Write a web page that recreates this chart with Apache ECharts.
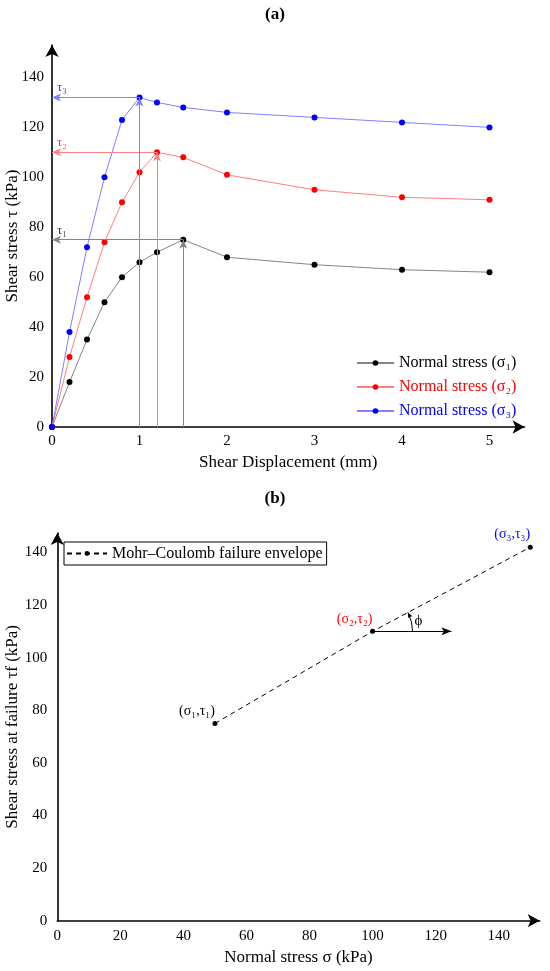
<!DOCTYPE html>
<html>
<head>
<meta charset="utf-8">
<script src="https://cdn.jsdelivr.net/npm/echarts@6/dist/echarts.min.js"></script>
<style>
    html, body { margin: 0; padding: 0; background: #fff; }
    #chart { width: 550px; height: 971px; }
</style>
</head>
<body>
<div id="chart"></div>
<script>
// (a) shear stress vs displacement
const displacement = [0, 0.2, 0.4, 0.6, 0.8, 1.0, 1.2, 1.5, 2, 3, 4, 5];
const stressS1 = [0, 18, 35, 50, 60, 66, 70, 75, 68, 65, 63, 62];
const stressS2 = [0, 28, 52, 74, 90, 102, 110, 108, 101, 95, 92, 91];
const stressS3 = [0, 38, 72, 100, 123, 132, 130, 128, 126, 124, 122, 120];
const seriesNames = ['Normal stress (σ₁)', 'Normal stress (σ₂)', 'Normal stress (σ₃)'];
const tauLabels = ['τ₁', 'τ₂', 'τ₃'];
const ticksA = { xInterval: 1, yInterval: 20 };

// (b) failure envelope
const normalStress = [50, 100, 150];
const failureStress = [75, 110, 142];
const pointLabels = ['(σ₁,τ₁)', '(σ₂,τ₂)', '(σ₃,τ₃)'];
const envelopeName = 'Mohr–Coulomb failure envelope';
const phiArrowEnd = 125;
const ticksB = { xInterval: 20, yInterval: 20 };

const markerColors = ['#000000', '#ff0000', '#0000ff'];
const lineColors = ['#858585', '#ff7f7f', '#7f7fff'];
const FONT = "'Liberation Serif', 'DejaVu Serif', serif";

const chart = echarts.init(document.getElementById('chart'));

function axisCommon(name, nameGap, interval, max, labelMargin) {
    return {
        type: 'value',
        min: 0,
        max: max,
        interval: interval,
        name: name,
        nameLocation: 'middle',
        nameGap: nameGap,
        nameMoveOverlap: false,
        nameTextStyle: { color: '#000', fontFamily: FONT, fontSize: 17 },
        axisLine: {
            show: true,
            onZero: false,
            symbol: ['none', 'arrow'],
            symbolSize: [10, 12],
            lineStyle: { color: '#000', width: 1.6 }
        },
        axisTick: { show: false },
        splitLine: { show: false },
        axisLabel: {
            color: '#000', fontFamily: FONT, fontSize: 15,
            margin: labelMargin, showMaxLabel: false
        }
    };
}

function stressSeries(values, i) {
    const peak = Math.max(...values);
    const peakX = displacement[values.indexOf(peak)];
    return {
        name: seriesNames[i],
        type: 'line',
        xAxisIndex: 0,
        yAxisIndex: 0,
        data: displacement.map((x, k) => [x, values[k]]),
        symbol: 'circle',
        symbolSize: 6,
        z: 3,
        itemStyle: { color: markerColors[i] },
        lineStyle: { color: lineColors[i], width: 1 },
        emphasis: { disabled: true },
        markLine: {
            silent: true,
            symbol: ['none', 'arrow'],
            symbolSize: [6, 9],
            label: { show: false },
            lineStyle: { color: lineColors[i], width: 1, type: 'solid' },
            data: [
                [{ coord: [peakX, 0] }, { coord: [peakX, peak] }],
                [{ coord: [peakX, peak] }, { coord: [0, peak] }]
            ]
        }
    };
}

const stressSets = [stressS1, stressS2, stressS3];

const titleRich = {
    p: { fontFamily: FONT, fontSize: 17, color: '#000' },
    b: { fontFamily: FONT, fontSize: 17, fontWeight: 'bold', color: '#000' }
};

const option = {
    backgroundColor: '#fff',
    animation: false,
    title: [
        { text: '{p|(}{b|a}{p|)}', left: 'center', top: 1, textStyle: { rich: titleRich } },
        { text: '{p|(}{b|b}{p|)}', left: 'center', top: 485, textStyle: { rich: titleRich } }
    ],
    legend: [
        {
            data: seriesNames.map((n, i) => ({ name: n, textStyle: { color: markerColors[i] } })),
            orient: 'vertical',
            left: 351,
            top: 350,
            itemWidth: 37,
            itemHeight: 7,
            itemGap: 8,
            selectedMode: false,
            textStyle: { fontFamily: FONT, fontSize: 16, lineHeight: 16 }
        },
        {
            data: [envelopeName],
            left: 64,
            top: 542,
            itemWidth: 40,
            itemHeight: 6,
            padding: [3, 4, 3, 2],
            borderColor: '#000',
            borderWidth: 1,
            borderRadius: 0,
            selectedMode: false,
            textStyle: { fontFamily: FONT, fontSize: 16, lineHeight: 17, color: '#000' }
        }
    ],
    grid: [
        { left: 52, top: 45, right: 25.5, bottom: 544, outerBoundsMode: 'none' },
        { left: 57.3, top: 533, right: 10.3, bottom: 50.3, outerBoundsMode: 'none' }
    ],
    xAxis: [
        Object.assign(axisCommon('Shear Displacement (mm)', 27, ticksA.xInterval, 5.4, 7), { gridIndex: 0 }),
        Object.assign(axisCommon('Normal stress σ (kPa)', 28, ticksB.xInterval, 153, 8), { gridIndex: 1 })
    ],
    yAxis: [
        Object.assign(axisCommon('Shear stress τ (kPa)', 31, ticksA.yInterval, 153, 8), { gridIndex: 0 }),
        Object.assign(axisCommon('Shear stress at failure τf (kPa)', 36, ticksB.yInterval, 147.4, 10), { gridIndex: 1 })
    ],
    series: [
        ...stressSets.map((v, i) => stressSeries(v, i)),
        {
            // tau labels next to the y axis
            type: 'scatter',
            xAxisIndex: 0,
            yAxisIndex: 0,
            silent: true,
            symbolSize: 0,
            data: stressSets.map((v, i) => ({
                value: [0, Math.max(...v)],
                label: { formatter: tauLabels[i], color: markerColors[i] }
            })),
            label: { show: true, position: [5, -16], fontFamily: FONT, fontSize: 13 }
        },
        {
            name: envelopeName,
            type: 'line',
            xAxisIndex: 1,
            yAxisIndex: 1,
            data: normalStress.map((x, k) => ({
                value: [x, failureStress[k]],
                label: { formatter: pointLabels[k], color: markerColors[k] }
            })),
            symbol: 'circle',
            symbolSize: 5,
            itemStyle: { color: '#000' },
            lineStyle: { color: '#000', width: 1, type: [5, 4] },
            emphasis: { disabled: true },
            label: { show: true, position: 'top', offset: [-18, 2], fontFamily: FONT, fontSize: 14 },
            markLine: {
                silent: true,
                symbol: ['none', 'arrow'],
                symbolSize: [6, 10],
                label: { show: false },
                lineStyle: { color: '#000', width: 1, type: 'solid' },
                data: [
                    [{ coord: [normalStress[1], failureStress[1]] }, { coord: [phiArrowEnd, failureStress[1]] }]
                ]
            }
        },
        {
            // friction angle arc
            type: 'custom',
            xAxisIndex: 1,
            yAxisIndex: 1,
            silent: true,
            data: [[normalStress[1], failureStress[1], normalStress[2], failureStress[2]]],
            renderItem(params, api) {
                const p0 = api.coord([api.value(0), api.value(1)]);
                const p1 = api.coord([api.value(2), api.value(3)]);
                const ang = Math.atan2(p1[1] - p0[1], p1[0] - p0[0]);
                const r = 40;
                const ex = p0[0] + r * Math.cos(ang);
                const ey = p0[1] + r * Math.sin(ang);
                const dx = Math.sin(ang), dy = -Math.cos(ang);
                const bx = ex - dx * 5, by = ey - dy * 5;
                return {
                    type: 'group',
                    children: [
                        {
                            type: 'arc',
                            shape: { cx: p0[0], cy: p0[1], r: r, startAngle: ang, endAngle: 0 },
                            style: { stroke: '#000', fill: null, lineWidth: 1 }
                        },
                        {
                            type: 'polygon',
                            shape: { points: [[ex, ey], [bx - dy * 2.2, by + dx * 2.2], [bx + dy * 2.2, by - dx * 2.2]] },
                            style: { fill: '#000' }
                        },
                        {
                            type: 'text',
                            style: {
                                text: 'ϕ', x: p0[0] + r + 2, y: p0[1] - 10,
                                fontFamily: FONT, fontSize: 15, fill: '#000',
                                verticalAlign: 'middle', align: 'left'
                            }
                        }
                    ]
                };
            }
        }
    ]
};

chart.setOption(option);
window.addEventListener('resize', () => chart.resize());
</script>
</body>
</html>
